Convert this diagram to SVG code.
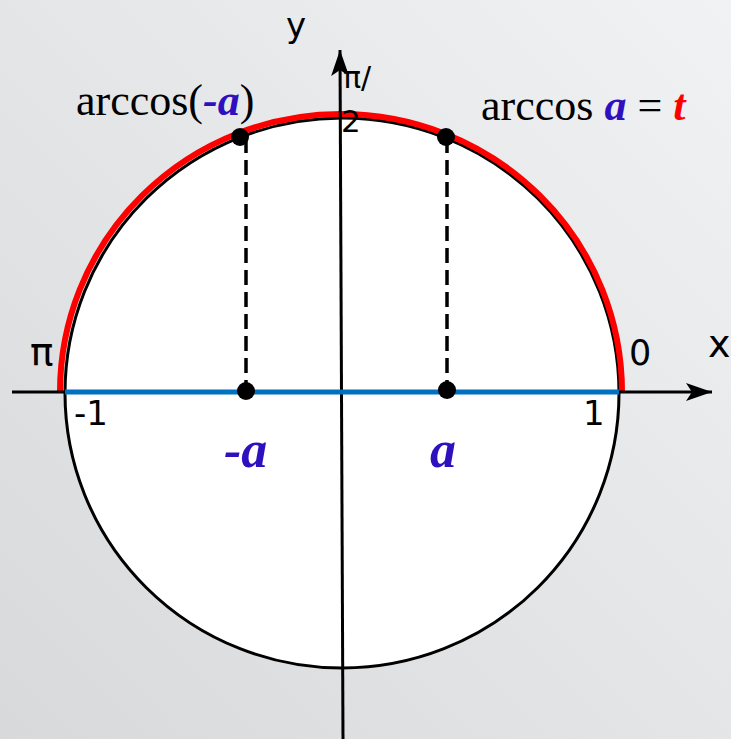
<svg xmlns="http://www.w3.org/2000/svg" width="731" height="739" viewBox="0 0 731 739">
<defs>
<linearGradient id="bg" x1="0" y1="1" x2="1" y2="0">
<stop offset="0" stop-color="#d7d9db"/>
<stop offset="1" stop-color="#f1f2f3"/>
</linearGradient>
<marker id="arr" markerUnits="userSpaceOnUse" markerWidth="26" markerHeight="18" refX="26" refY="9" orient="auto">
<path d="M0,0 L26,9 L0,18 L6,9 Z" fill="#000"/>
</marker>
<style>
.sans{font-family:"DejaVu Sans","Liberation Sans",sans-serif;fill:#000}
.serif{font-family:"Liberation Serif","Times New Roman",serif;fill:#000}
.bi{font-weight:bold;font-style:italic}
.blue{fill:#2f10be}
.red{fill:#ff0000}
.axis{stroke:#000;stroke-width:3;fill:none}
.dash{stroke:#000;stroke-width:3.5;stroke-dasharray:15 7;fill:none}
.dot{fill:#000}
</style>
</defs>
<rect width="731" height="739" fill="url(#bg)"/>
<g id="circle">
<ellipse cx="342" cy="393" rx="277" ry="275" fill="#fff" stroke="#000" stroke-width="3"/>
</g>
<g id="arc">
<path d="M60,392 A281,278 0 0 1 622,392" fill="none" stroke="#ff0000" stroke-width="6"/>
</g>
<g id="connectors">
<line class="axis" x1="12" y1="392" x2="712" y2="392" marker-end="url(#arr)"/>
<line class="axis" x1="343" y1="739" x2="340" y2="50" marker-end="url(#arr)"/>
<line x1="65" y1="392" x2="619" y2="392" stroke="#0070c0" stroke-width="5"/>
<line class="dash" x1="246" y1="138" x2="246" y2="392"/>
<line class="dash" x1="447" y1="138" x2="447" y2="392"/>
</g>
<g id="points">
<circle class="dot" cx="240" cy="137" r="9"/>
<circle class="dot" cx="446" cy="137" r="9"/>
<circle class="dot" cx="246" cy="391" r="9"/>
<circle class="dot" cx="447" cy="390" r="9"/>
</g>
<g id="labels">
<text class="sans" x="286" y="37" font-size="34">y</text>
<text class="sans" x="343" y="88" font-size="30">π/</text>
<text class="sans" x="341" y="132" font-size="31">2</text>
<text class="sans" x="30" y="365" font-size="39">π</text>
<text class="sans" x="629" y="365" font-size="35">0</text>
<text class="sans" x="708" y="357" font-size="38">x</text>
<text class="sans" x="74" y="425" font-size="34">-1</text>
<text class="sans" x="583" y="425" font-size="34">1</text>
<text class="serif" x="76" y="115" font-size="44">arccos(<tspan class="bi blue">-a</tspan>)</text>
<text class="serif" x="481" y="120" font-size="44">arccos <tspan class="bi blue">a</tspan> = <tspan class="bi red">t</tspan></text>
<text class="serif bi blue" x="224" y="467" font-size="52">-a</text>
<text class="serif bi blue" x="430" y="467" font-size="52">a</text>
</g>
</svg>
